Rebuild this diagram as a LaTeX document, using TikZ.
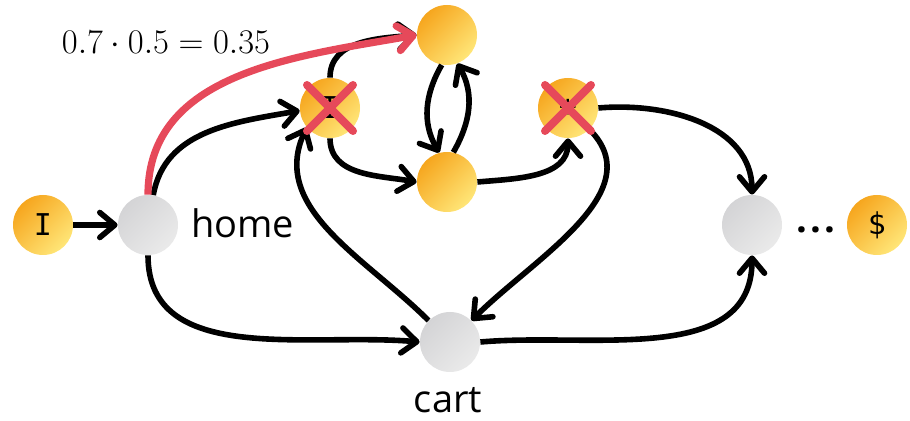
\documentclass[tikz,border=0pt]{standalone}
\usepackage{fontspec}
\usepackage{tikz}
\usetikzlibrary{arrows.meta}
\newfontfamily\labelfont{Open Sans}
\newfontfamily\monofont{DejaVu Sans Mono}
\definecolor{gold1}{RGB}{246,166,30}
\definecolor{gold2}{RGB}{255,230,120}
\definecolor{gray1}{RGB}{212,212,214}
\definecolor{gray2}{RGB}{234,234,234}
\definecolor{xred}{RGB}{230,73,90}
\tikzset{
  goldnode/.style={circle, minimum size=30pt, inner sep=0pt, left color=gold1, right color=gold2, shading angle=45, font=\monofont\fontsize{15}{15}\selectfont},
  graynode/.style={circle, minimum size=30pt, inner sep=0pt, left color=gray1, right color=gray2, shading angle=45},
  link/.style={line width=2.8pt, -{Straight Barb[length=7.5pt,width=12.5pt,line cap=round,line join=round]}},
  redlink/.style={link, draw=xred, line width=3.6pt},
  cross/.style={draw=xred, line width=4pt, line cap=round},
  lbl/.style={font=\labelfont\fontsize{19}{19}\selectfont}
}
\newcommand{\crossout}[1]{
  \draw[cross] ([shift={(-23,23)}]#1.center) -- ([shift={(23,-23)}]#1.center);
  \draw[cross] ([shift={(-23,-23)}]#1.center) -- ([shift={(23,23)}]#1.center);}
\begin{document}
\begin{tikzpicture}[x=0.5pt,y=0.5pt]
        \useasboundingbox (0,0) rectangle (910,-421);
        % nodes
        \node[goldnode] (start) at (43,-225) {I};
        \node[graynode] (home) at (148,-225) {};
        \node[lbl, anchor=west] (homelbl) at (184,-223) {home};
        \node[goldnode] (top) at (447,-35) {};
        \node[goldnode] (ident) at (330,-108) {I};
        \node[goldnode] (mid) at (447,-182) {};
        \node[goldnode] (plus) at (568,-108) {+};
        \node[graynode] (right) at (752,-225) {};
        \node[font=\labelfont\bfseries\fontsize{19}{19}\selectfont, anchor=base] (dots) at (816,-233) {.\kern1.6pt.\kern1.6pt.};
        \node[goldnode] (dollar) at (877,-225) {\$};
        \node[graynode] (cart) at (450,-342) {};
        \node[lbl] (cartlbl) at (448,-400) {cart};
        \node[font=\fontsize{18.5}{18.5}\selectfont] (prob) at (166,-42) {$0.7\cdot0.5=0.35$};

        % edges
        \draw[link] (start) -- (home);
        \draw[link] (home.80) to[out=80,in=190] (ident.185);
        \draw[link] (home.south) to[out=-90,in=175] (cart.west);
        \draw[link] (cart.135) to[out=135,in=245] (ident.220);
        \draw[link] (ident.south) to[out=-90,in=170] (mid.west);
        \draw[link] (ident.north) to[out=90,in=185] (top.west);
        \draw[link] (top.260) to[out=240,in=120] (mid.105);
        \draw[link] (mid.78) to[out=60,in=-60] (top.290);
        \draw[link] (mid.east) to[out=5,in=-90] (plus.south);
        \draw[link] (plus.east) to[out=5,in=90] (right.north);
        \draw[link] (plus.-45) to[out=-45,in=45] (cart.45);
        \draw[link] (cart.east) to[out=5,in=-90] (right.south);
        \draw[redlink] (home.north) to[out=90,in=190] (top.west);

        % crossed out
        \crossout{ident}
        \crossout{plus}
    \end{tikzpicture}
\end{document}
